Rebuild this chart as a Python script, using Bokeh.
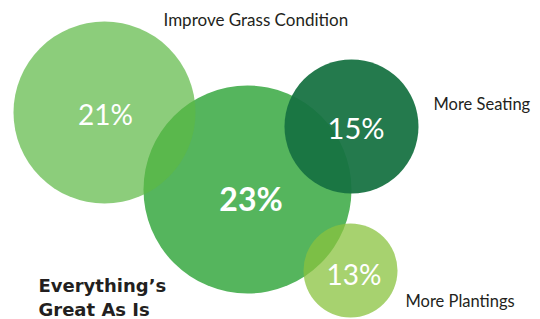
from bokeh.plotting import figure
from bokeh.models import Range1d
from bokeh.core.properties import value
from bokeh.embed import file_html
from bokeh.resources import INLINE

# data
categories = ["Improve Grass Condition", "Everything\u2019s Great As Is", "More Seating", "More Plantings"]
percents = [21, 23, 15, 13]

# layout (pixel coordinates) and styles; drawing order: 23, 21, 15, 13
order = [1, 0, 2, 3]
cx = [104, 247, 351, 350]
cy = [112, 189, 126, 270]
radius = [91, 104, 67, 47]
colors = ["#5db845", "#55b55d", "#167242", "#8ac33f"]
alphas = [0.71, 1.0, 0.94, 0.75]

pct_x = [105, 250.5, 355.5, 353.5]
pct_y = [113, 197.5, 127, 273]
pct_style = ["normal", "bold", "normal", "normal"]
pct_size = ["28px", "32px", "29px", "28px"]

W, H = 540, 319

p = figure(width=W, height=H, output_backend="svg", toolbar_location=None,
           x_range=Range1d(0, W), y_range=Range1d(H, 0),
           min_border=0, outline_line_color=None)
p.axis.visible = False
p.grid.visible = False
p.background_fill_color = "white"
p.border_fill_color = "white"

for i in order:
    p.circle(x=[cx[i]], y=[cy[i]], radius=radius[i], fill_color=colors[i],
             fill_alpha=alphas[i], line_color=None)

for i in range(len(percents)):
    p.text(x=[pct_x[i]], y=[pct_y[i]], text=[f"{percents[i]}%"], text_color="white",
           text_font=value("Lato"), text_font_size=pct_size[i], text_font_style=pct_style[i],
           text_align="center", text_baseline="middle")

label_color = "#231f20"
lf = value("Lato")
p.text(x=[163], y=[18.5], text=[categories[0]], text_color=label_color, text_font=lf,
       text_font_size="17px", text_align="left", text_baseline="middle")
p.text(x=[433], y=[103.5], text=[categories[2]], text_color=label_color, text_font=lf,
       text_font_size="16.5px", text_align="left", text_baseline="middle")
p.text(x=[405], y=[300.5], text=[categories[3]], text_color=label_color, text_font=lf,
       text_font_size="16.5px", text_align="left", text_baseline="middle")
words = categories[1].split(" ")
p.text(x=[38, 38], y=[284.5, 309], text=[words[0], " ".join(words[1:])], text_color=label_color,
       text_font=value("DejaVu Sans"), text_font_size="18px", text_font_style="bold",
       text_align="left", text_baseline="middle")

open("out.html", "w").write(file_html(p, INLINE))
